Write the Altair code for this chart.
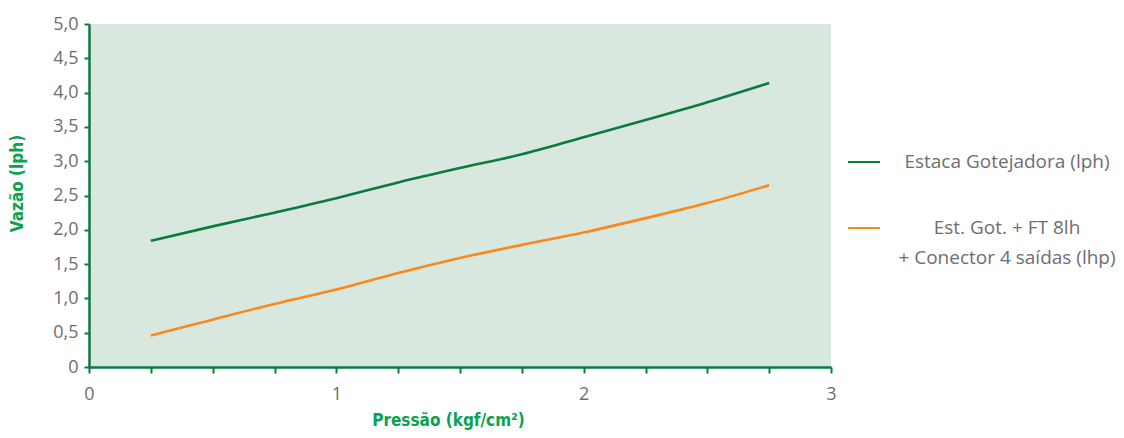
import altair as alt
import pandas as pd

pressao = [0.25, 0.5, 0.75, 1.0, 1.25, 1.5, 1.75, 2.0, 2.25, 2.5, 2.75]
estaca = [1.84, 2.05, 2.25, 2.46, 2.69, 2.90, 3.10, 3.35, 3.60, 3.86, 4.14]
est_got_ft = [0.46, 0.69, 0.92, 1.13, 1.37, 1.59, 1.78, 1.96, 2.17, 2.39, 2.65]
series_names = ["Estaca Gotejadora (lph)", "Est. Got. + FT 8lh\n+ Conector 4 saídas (lhp)"]
series_colors = ["#0b7a3e", "#f7891f"]
x_ticks = [i * 0.25 for i in range(13)]
y_ticks = [i * 0.5 for i in range(11)]

rows = []
for p, v in zip(pressao, estaca):
    rows.append({"pressao": p, "vazao": v, "serie": series_names[0]})
for p, v in zip(pressao, est_got_ft):
    rows.append({"pressao": p, "vazao": v, "serie": series_names[1]})
df = pd.DataFrame(rows)

axis_green = "#0b7a3e"
title_green = "#0aa24f"
label_gray = "#6d6e71"
font = "Open Sans"
title_font = "DejaVu Sans Condensed"

lines = alt.Chart(df).mark_line(interpolate="monotone", strokeWidth=2.6).encode(
    x=alt.X(
        "pressao:Q",
        scale=alt.Scale(domain=[0, 3], nice=False, zero=True),
        axis=alt.Axis(
            values=x_ticks,
            labelExpr="datum.value % 1 == 0 ? format(datum.value, 'd') : ''",
            labelFlush=False,
            grid=False,
            domainColor=axis_green,
            domainWidth=2.5,
            tickColor=axis_green,
            tickWidth=2,
            tickSize=6,
            labelPadding=12,
            labelColor=label_gray,
            labelFont=font,
            labelFontSize=18,
            title="Pressão (kgf/cm²)",
            titleColor=title_green,
            titleFont=title_font,
            titleFontSize=17,
            titleFontWeight="bold",
            titleX=359,
            titleY=58,
            titleAlign="center",
            titleBaseline="alphabetic",
        ),
    ),
    y=alt.Y(
        "vazao:Q",
        scale=alt.Scale(domain=[0, 5], nice=False),
        axis=alt.Axis(
            values=y_ticks,
            labelExpr="datum.value == 0 ? '0' : replace(format(datum.value, '.1f'), '.', ',')",
            labelFlush=False,
            grid=False,
            domainColor=axis_green,
            domainWidth=2.5,
            tickColor=axis_green,
            tickWidth=2,
            tickSize=5,
            labelPadding=6,
            labelColor=label_gray,
            labelFont=font,
            labelFontSize=18,
            title="Vazão (lph)",
            titleColor=title_green,
            titleFont=title_font,
            titleFontSize=17,
            titleFontWeight="bold",
            titleAngle=270,
            titleX=-72,
            titleY=159,
            titleAlign="center",
            titleBaseline="middle",
        ),
    ),
    color=alt.Color(
        "serie:N",
        scale=alt.Scale(domain=series_names, range=series_colors),
        legend=None,
    ),
)

# Manual legend (swatch + centred multi-line label)
legend_layers = []
legend_rows = [(138, 138), (204, 204)]  # (swatch y, first text line y) in px
for name, col, (sy, ty) in zip(series_names, series_colors, legend_rows):
    ldf = pd.DataFrame({"serie": [name]})
    legend_layers.append(
        alt.Chart(ldf).mark_rule(color=col, strokeWidth=2).encode(
            x=alt.value(759), x2=alt.value(791), y=alt.value(sy)
        )
    )
    legend_layers.append(
        alt.Chart(ldf).mark_text(
            align="center", baseline="middle", lineBreak="\n", lineHeight=30,
            font=font, fontSize=19, color=label_gray,
        ).encode(text="serie:N", x=alt.value(918), y=alt.value(ty))
    )

chart = alt.layer(lines, *legend_layers).properties(
    width=742,
    height=343,
    autosize=alt.AutoSizeParams(type="none"),
    padding={"left": 81, "top": 16, "right": 285, "bottom": 63},
).configure_view(fill="#d9e8de", stroke=None)

chart.save("out.html", embed_options={"renderer": "svg", "actions": False})
